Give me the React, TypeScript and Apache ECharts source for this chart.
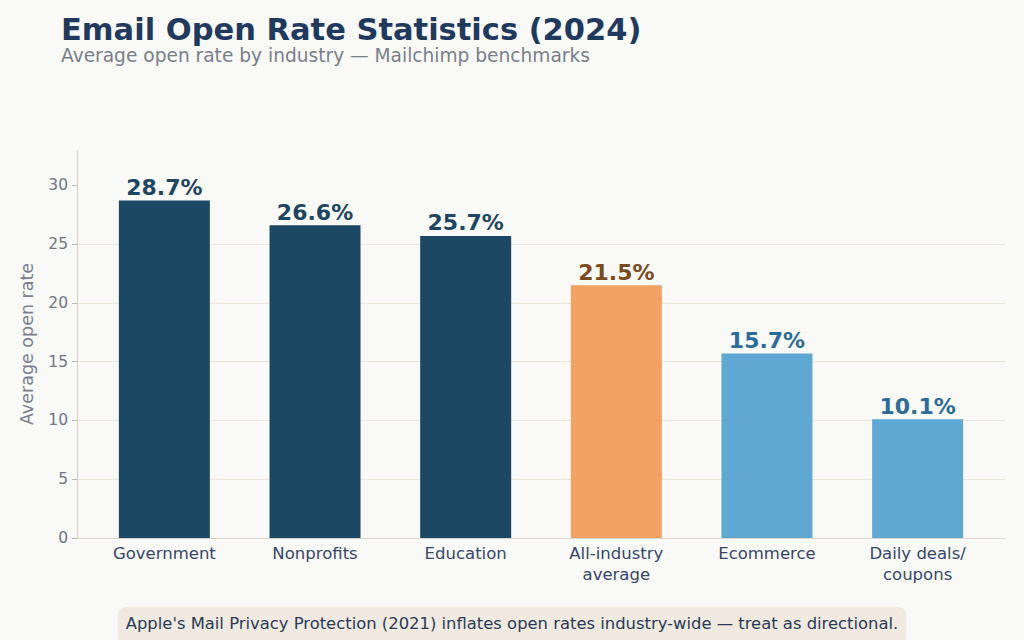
import React, { useEffect, useRef } from "react";
import * as echarts from "echarts";

// Mailchimp benchmark open rates, percent
const industries = ["Government", "Nonprofits", "Education", "All-industry\naverage", "Ecommerce", "Daily deals/\ncoupons"];
const openRates = [28.7, 26.6, 25.7, 21.5, 15.7, 10.1];
const tiers = ["high", "high", "high", "average", "low", "low"];
const yTicks = [0, 5, 10, 15, 20, 25, 30];

const tierColors: Record<string, { bar: string; label: string }> = {
  high: { bar: "#1c4864", label: "#1d4662" },
  average: { bar: "#f3a263", label: "#7b4a1d" },
  low: { bar: "#5fa8d4", label: "#2c6c9c" },
};

const FONT = "DejaVu Sans";

export default function App() {
  const ref = useRef<HTMLDivElement>(null);

  useEffect(() => {
    if (!ref.current) return;
    const chart = echarts.init(ref.current, null, { renderer: "svg" });
    const positions = industries.map((_, i) => i);

    chart.setOption({
      animation: false,
      backgroundColor: "#f9f9f7",
      textStyle: { fontFamily: FONT },
      title: [
        {
          text: "Email Open Rate Statistics (2024)",
          left: 61,
          top: 16,
          padding: 0,
          textStyle: { fontFamily: FONT, fontSize: 30.5, lineHeight: 26, fontWeight: "bold", color: "#1f3a5e" },
        },
        {
          text: "Average open rate by industry — Mailchimp benchmarks",
          left: 61,
          top: 48,
          padding: 0,
          textStyle: { fontFamily: FONT, fontSize: 18.6, lineHeight: 14, fontWeight: "normal", color: "#7a7f8a" },
        },
        {
          text: "Apple's Mail Privacy Protection (2021) inflates open rates industry-wide — treat as directional.",
          left: "center",
          top: 607,
          padding: [8, 8, 14, 8],
          backgroundColor: "#efe9df",
          borderRadius: 8,
          textStyle: { fontFamily: FONT, fontSize: 16.4, fontWeight: "normal", color: "#2b3b57" },
        },
      ],
      grid: { left: 77, right: 19, top: 150, bottom: 102 },
      xAxis: {
        type: "value",
        min: -0.58,
        max: industries.length - 1 + 0.58,
        splitLine: { show: false },
        axisLine: { show: true, onZero: false, lineStyle: { color: "#d9d5cd", width: 1.2 } },
        axisTick: { show: false },
        axisLabel: {
          customValues: positions,
          formatter: (v: number) => industries[Math.round(v)] ?? "",
          fontFamily: FONT,
          fontSize: 16.5,
          lineHeight: 21,
          color: "#34466a",
          margin: 5,
        },
      },
      yAxis: {
        type: "value",
        min: 0,
        max: Math.max(...openRates) * 1.15,
        name: "Average open rate",
        nameLocation: "middle",
        nameGap: 41,
        nameTextStyle: { fontFamily: FONT, fontSize: 17.5, color: "#7a8090" },
        axisLine: { show: true, onZero: false, lineStyle: { color: "#d9d5cd", width: 1.2 } },
        axisTick: { show: true, customValues: yTicks, length: 5, lineStyle: { color: "#bdb9b1" } },
        axisLabel: {
          customValues: yTicks,
          fontFamily: FONT,
          fontSize: 15.5,
          color: "#6f7585",
          margin: 9,
        },
        splitLine: {
          show: true,
          showMinLine: false,
          showMaxLine: false,
          lineStyle: { color: "#e9e5dd", width: 1.2 },
        },
      },
      series: [
        {
          type: "bar",
          barWidth: 91,
          data: openRates.map((v, i) => ({
            value: [i, v],
            itemStyle: { color: tierColors[tiers[i]].bar },
            label: { color: tierColors[tiers[i]].label },
          })),
          label: {
            show: true,
            position: "top",
            distance: 2,
            fontFamily: FONT,
            fontSize: 22,
            fontWeight: "bold",
            formatter: (p: any) => `${p.value[1].toFixed(1)}%`,
          },
        },
      ],
    });

    return () => chart.dispose();
  }, []);

  return (
    <div
      ref={ref}
      style={{ position: "fixed", left: 0, top: 0, width: 1024, height: 640 }}
    />
  );
}
